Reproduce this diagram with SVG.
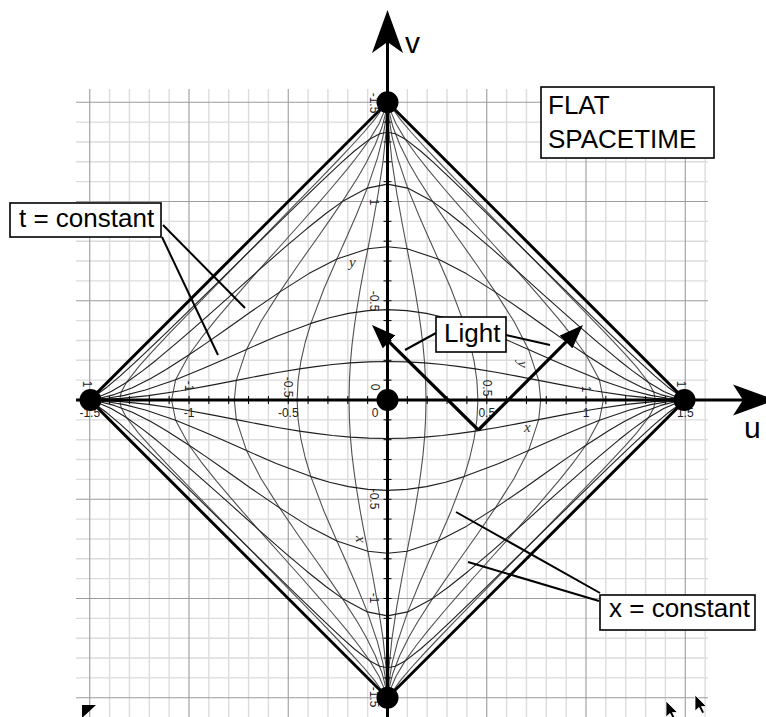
<svg xmlns="http://www.w3.org/2000/svg" width="766" height="717" viewBox="0 0 766 717">
<style>
.minor{stroke:#dcdcdc;stroke-width:1.4;fill:none}
.major{stroke:#9c9c9c;stroke-width:1.1;fill:none}
.tc{fill:none;stroke:#1e1e1e;stroke-width:1.1;stroke-linejoin:round}
.xc{fill:none;stroke:#505050;stroke-width:1.1;stroke-linejoin:round}
.axis{stroke:#000;stroke-width:3;fill:none}
.edge{stroke:#000;stroke-width:3;fill:none}
.tick{stroke:#000;stroke-width:1;fill:none}
.dot{fill:#000}
.box{fill:#fff;stroke:#000;stroke-width:1.6}
.lbl{font-family:"Liberation Sans",Arial,sans-serif;font-size:26px;fill:#000}
.big{font-family:"Liberation Sans",Arial,sans-serif;font-size:30px;fill:#000}
.num{font-family:"Liberation Sans",Arial,sans-serif;font-size:12px;fill:#222}
.it{font-family:"Liberation Serif","Times New Roman",serif;font-style:italic;font-size:15px;fill:#333}
.lead{stroke:#000;stroke-width:2;fill:none}
.ray{stroke:#000;stroke-width:3.2;fill:none}
</style>
<defs>
<path id="c02" d="M0,-306.3 L0.4,-286.9 L1.6,-266.2 L4.4,-239.1 L9.3,-206.6 L14.6,-177 L19.6,-151.2 L23.9,-129.3 L27.5,-109.9 L31.1,-88 L33.4,-71.9 L35.5,-54.9 L37.1,-37.1 L38.1,-18.7 L38.5,0 L38.1,18.7 L37.1,37.1 L35.5,54.9 L33.4,71.9 L31.1,88 L27.5,109.9 L23.9,129.3 L19.6,151.2 L14.6,177 L9.3,206.6 L4.4,239.1 L1.6,266.2 L0.4,286.9 L0,306.3"/>
<path id="c05" d="M0,-306.3 L1.7,-280.3 L4.6,-263.2 L10,-242.1 L20.2,-211.9 L31.4,-184.5 L39.8,-165.3 L50.6,-141 L63.5,-111.3 L76.6,-76.6 L82.2,-58 L86.6,-38.9 L89.4,-19.5 L90.4,0 L89.4,19.5 L86.6,38.9 L82.2,58 L76.6,76.6 L63.5,111.3 L50.6,141 L39.8,165.3 L31.4,184.5 L20.2,211.9 L10,242.1 L4.6,263.2 L1.7,280.3 L0,306.3"/>
<path id="c1" d="M0,-306.3 L1.95,-286.7 L5.4,-273.2 L12.1,-255.7 L21.3,-237.2 L30.2,-221.8 L45.2,-198.4 L56.4,-181.9 L70.8,-161.3 L88.5,-136.3 L107.9,-107.9 L126.4,-78.7 L141,-50.6 L151.2,-19.6 L153.2,0 L151.2,19.6 L141,50.6 L126.4,78.7 L107.9,107.9 L88.5,136.3 L70.8,161.3 L56.4,181.9 L45.2,198.4 L30.2,221.8 L21.3,237.2 L12.1,255.7 L5.4,273.2 L1.95,286.7 L0,306.3"/>
<path id="c2" d="M0,-306.3 L2.8,-289.6 L8.5,-276.3 L17.5,-261.1 L29.1,-245 L39.8,-231.4 L57.3,-210.5 L70.2,-195.7 L86.6,-177 L106.7,-154.5 L129.3,-129.3 L151.6,-103.9 L171.2,-80.8 L186.8,-61.3 L198.4,-45.2 L211.9,-20.2 L215.9,0 L211.9,20.2 L198.4,45.2 L186.8,61.3 L171.2,80.8 L151.6,103.9 L129.3,129.3 L106.7,154.5 L86.6,177 L70.2,195.7 L57.3,210.5 L39.8,231.4 L29.1,245 L17.5,261.1 L8.5,276.3 L2.8,289.6 L0,306.3"/>
<path id="c5" d="M0,-306.3 L4.8,-291.7 L12.8,-280.6 L23.9,-267.5 L37.1,-253 L48.9,-240.5 L67.7,-220.9 L98.7,-189.1 L143.4,-143.4 L188.1,-97.7 L218.9,-65.8 L237.6,-45.9 L249,-33.1 L261.1,-17.5 L266.3,-7.8 L267.8,0 L266.3,7.8 L261.1,17.5 L249,33.1 L237.6,45.9 L218.9,65.8 L188.1,97.7 L143.4,143.4 L98.7,189.1 L67.7,220.9 L48.9,240.5 L37.1,253 L23.9,267.5 L12.8,280.6 L4.8,291.7 L0,306.3"/>
<marker id="ah" viewBox="0 0 24 18" refX="16" refY="9" markerWidth="24" markerHeight="18" markerUnits="userSpaceOnUse" orient="auto"><path d="M0,0 L24,9 L0,18 Z" fill="#000"/></marker>
<path id="cursor" d="M0 0 L0 16 L4 12.5 L7 18.5 L9.5 17.5 L6.5 11.5 L11.5 11.5 Z"/>
</defs>
<rect width="766" height="717" fill="#fff"/>
<g id="grid">
<path class="minor" d="M109.6 89V717M129.45 89V717M149.3 89V717M169.15 89V717M208.85 89V717M228.7 89V717M248.55 89V717M268.4 89V717M308.1 89V717M327.95 89V717M347.8 89V717M367.65 89V717M407.35 89V717M427.2 89V717M447.05 89V717M466.9 89V717M506.6 89V717M526.45 89V717M546.3 89V717M566.15 89V717M605.85 89V717M625.7 89V717M645.55 89V717M665.4 89V717M705.1 89V717M76 122.1H708M76 141.95H708M76 161.8H708M76 181.65H708M76 221.35H708M76 241.2H708M76 261.05H708M76 280.9H708M76 320.6H708M76 340.45H708M76 360.3H708M76 380.15H708M76 419.85H708M76 439.7H708M76 459.55H708M76 479.4H708M76 519.1H708M76 538.95H708M76 558.8H708M76 578.65H708M76 618.35H708M76 638.2H708M76 658.05H708M76 677.9H708"/>
<path class="major" d="M89.75 89V717M189 89V717M288.25 89V717M387.5 89V717M486.75 89V717M586 89V717M685.25 89V717M76 102.25H708M76 201.5H708M76 300.75H708M76 400H708M76 499.25H708M76 598.5H708M76 697.75H708"/>
</g>
<g id="x-constant" transform="translate(387.5,400)" class="xc">
<use href="#c02"/><use href="#c05"/><use href="#c1"/><use href="#c2"/><use href="#c5"/>
<g transform="scale(-1,1)"><use href="#c02"/><use href="#c05"/><use href="#c1"/><use href="#c2"/><use href="#c5"/></g>
</g>
<g id="t-constant" transform="translate(387.5,400)" class="tc">
<g transform="matrix(0,-1,-1,0,0,0)"><use href="#c02"/><use href="#c05"/><use href="#c1"/><use href="#c2"/><use href="#c5"/></g>
<g transform="matrix(0,1,-1,0,0,0)"><use href="#c02"/><use href="#c05"/><use href="#c1"/><use href="#c2"/><use href="#c5"/></g>
</g>
<g id="diamond">
<path class="edge" d="M387.5,102.25 L685.25,400 L387.5,697.75 L89.75,400 Z"/>
</g>
<g id="axes">
<path class="axis" d="M76,400 H745"/>
<polygon points="776,400 733,384.5 743,400 733,415.5" fill="#000"/>
<path class="axis" d="M387.5,717 V42"/>
<polygon points="387.5,10 372,53 387.5,42 403,53" fill="#000"/>
<path class="tick" d="M109.6 396V404M129.45 396V404M149.3 396V404M169.15 396V404M189 396V404M208.85 396V404M228.7 396V404M248.55 396V404M268.4 396V404M288.25 396V404M308.1 396V404M327.95 396V404M347.8 396V404M367.65 396V404M407.35 396V404M427.2 396V404M447.05 396V404M466.9 396V404M486.75 396V404M506.6 396V404M526.45 396V404M546.3 396V404M566.15 396V404M586 396V404M605.85 396V404M625.7 396V404M645.55 396V404M665.4 396V404"/>
<path class="tick" d="M383.5 122.1H391.5M383.5 141.95H391.5M383.5 161.8H391.5M383.5 181.65H391.5M383.5 201.5H391.5M383.5 221.35H391.5M383.5 241.2H391.5M383.5 261.05H391.5M383.5 280.9H391.5M383.5 300.75H391.5M383.5 320.6H391.5M383.5 340.45H391.5M383.5 360.3H391.5M383.5 380.15H391.5M383.5 419.85H391.5M383.5 439.7H391.5M383.5 459.55H391.5M383.5 479.4H391.5M383.5 499.25H391.5M383.5 519.1H391.5M383.5 538.95H391.5M383.5 558.8H391.5M383.5 578.65H391.5M383.5 598.5H391.5M383.5 618.35H391.5M383.5 638.2H391.5M383.5 658.05H391.5M383.5 677.9H391.5"/>
<text class="big" x="744" y="438">u</text>
<text class="big" x="405" y="53">v</text>
</g>
<g id="axis-labels">
<text class="num" x="89.75" y="417" text-anchor="middle">-1.5</text>
<text class="num" x="189" y="417" text-anchor="middle">-1</text>
<text class="num" x="288.25" y="417" text-anchor="middle">-0.5</text>
<text class="num" x="375" y="417" text-anchor="middle">0</text>
<text class="num" x="486.75" y="417" text-anchor="middle">0.5</text>
<text class="num" x="586" y="417" text-anchor="middle">1</text>
<text class="num" x="685.25" y="417" text-anchor="middle">1.5</text>
<text class="num" transform="translate(284,387) rotate(90)" text-anchor="middle">-0.5</text>
<text class="num" transform="translate(370.5,387) rotate(90)" text-anchor="middle">0</text>
<text class="num" transform="translate(482.5,388) rotate(90)" text-anchor="middle">0.5</text>
<text class="num" transform="translate(184.5,386) rotate(90)" text-anchor="middle">-1</text>
<text class="num" transform="translate(581.5,389) rotate(90)" text-anchor="middle">1</text>
<text class="num" transform="translate(677,384) rotate(90)" text-anchor="middle">1</text>
<text class="num" transform="translate(83,384) rotate(90)" text-anchor="middle">1</text>
<text class="num" transform="translate(369.5,103) rotate(90)" text-anchor="middle">-1.5</text>
<text class="num" transform="translate(370,202) rotate(90)" text-anchor="middle">1</text>
<text class="num" transform="translate(369.5,301) rotate(90)" text-anchor="middle">-0.5</text>
<text class="num" transform="translate(369.5,499) rotate(90)" text-anchor="middle">-0.5</text>
<text class="num" transform="translate(369.5,598) rotate(90)" text-anchor="middle">-1</text>
<text class="num" transform="translate(369.5,697) rotate(90)" text-anchor="middle">-1.5</text>
<text class="it" x="349" y="267">y</text>
<text class="it" transform="translate(518,361) rotate(90)">y</text>
<text class="it" x="524" y="432">x</text>
<text class="it" transform="translate(356,536) rotate(90)">x</text>
</g>
<g id="vertices">
<circle class="dot" cx="387.5" cy="102.25" r="11"/>
<circle class="dot" cx="387.5" cy="697.75" r="11"/>
<circle class="dot" cx="90.5" cy="400" r="11"/>
<circle class="dot" cx="684.5" cy="400" r="11"/>
<circle class="dot" cx="387.5" cy="400" r="11"/>
</g>
<g id="connectors">
<path class="lead" d="M163,225 L245,308"/>
<path class="lead" d="M162,237 L218,355"/>
<path class="lead" d="M436,333 L405,350"/>
<path class="lead" d="M506,335 L550,345"/>
<path class="lead" d="M600,593 L456,512"/>
<path class="lead" d="M599,601 L468,562"/>
<path class="ray" d="M478.3,430 L377.7,330.7" marker-end="url(#ah)"/>
<path class="ray" d="M478.3,430 L577.3,330.7" marker-end="url(#ah)"/>
</g>
<g id="label-t">
<rect class="box" x="10" y="203" width="151" height="34"/>
<text class="lbl" x="19" y="227">t = constant</text>
</g>
<g id="label-light">
<rect class="box" x="436" y="317" width="70" height="35"/>
<text class="lbl" x="444" y="342">Light</text>
</g>
<g id="label-flat">
<rect class="box" x="541" y="87" width="173" height="71"/>
<text class="lbl" x="548" y="114">FLAT</text>
<text class="lbl" x="548" y="148">SPACETIME</text>
</g>
<g id="label-x">
<rect class="box" x="600" y="595" width="155" height="35"/>
<text class="lbl" x="609" y="617">x = constant</text>
</g>
<g id="cursors">
<polygon points="82,705 96,705 82,718" fill="#000"/>
<use href="#cursor" transform="translate(666,701)" fill="#000" stroke="#fff" stroke-width="0.8"/>
<use href="#cursor" transform="translate(695,695)" fill="#000" stroke="#fff" stroke-width="0.8"/>
</g>
</svg>
